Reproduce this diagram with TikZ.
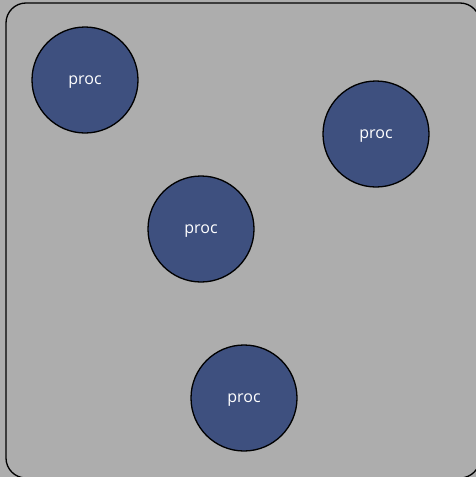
\documentclass[tikz,border=0pt]{standalone}
\usepackage{fontspec}
\setmainfont{Open Sans}
\definecolor{procblue}{RGB}{62,80,127}
\definecolor{boxgray}{RGB}{173,173,173}
\begin{document}
\begin{tikzpicture}[x=1pt, y=-1pt,
  procnode/.style={circle, draw=black, line width=1.3pt, fill=procblue, text=white, minimum size=106pt, inner sep=0pt, text depth=0pt, font=\fontsize{16}{18}\selectfont}]

\fill[boxgray] (0,0) rectangle (476,477);
\useasboundingbox (0,0) rectangle (476,477);
\draw[line width=1.3pt, rounded corners=20pt] (6,3) rectangle (480,478);

\node[procnode] (p1) at (85,80) {proc};
\node[procnode] (p2) at (376,134) {proc};
\node[procnode] (p3) at (201,229) {proc};
\node[procnode] (p4) at (244,398) {proc};

\end{tikzpicture}
\end{document}
